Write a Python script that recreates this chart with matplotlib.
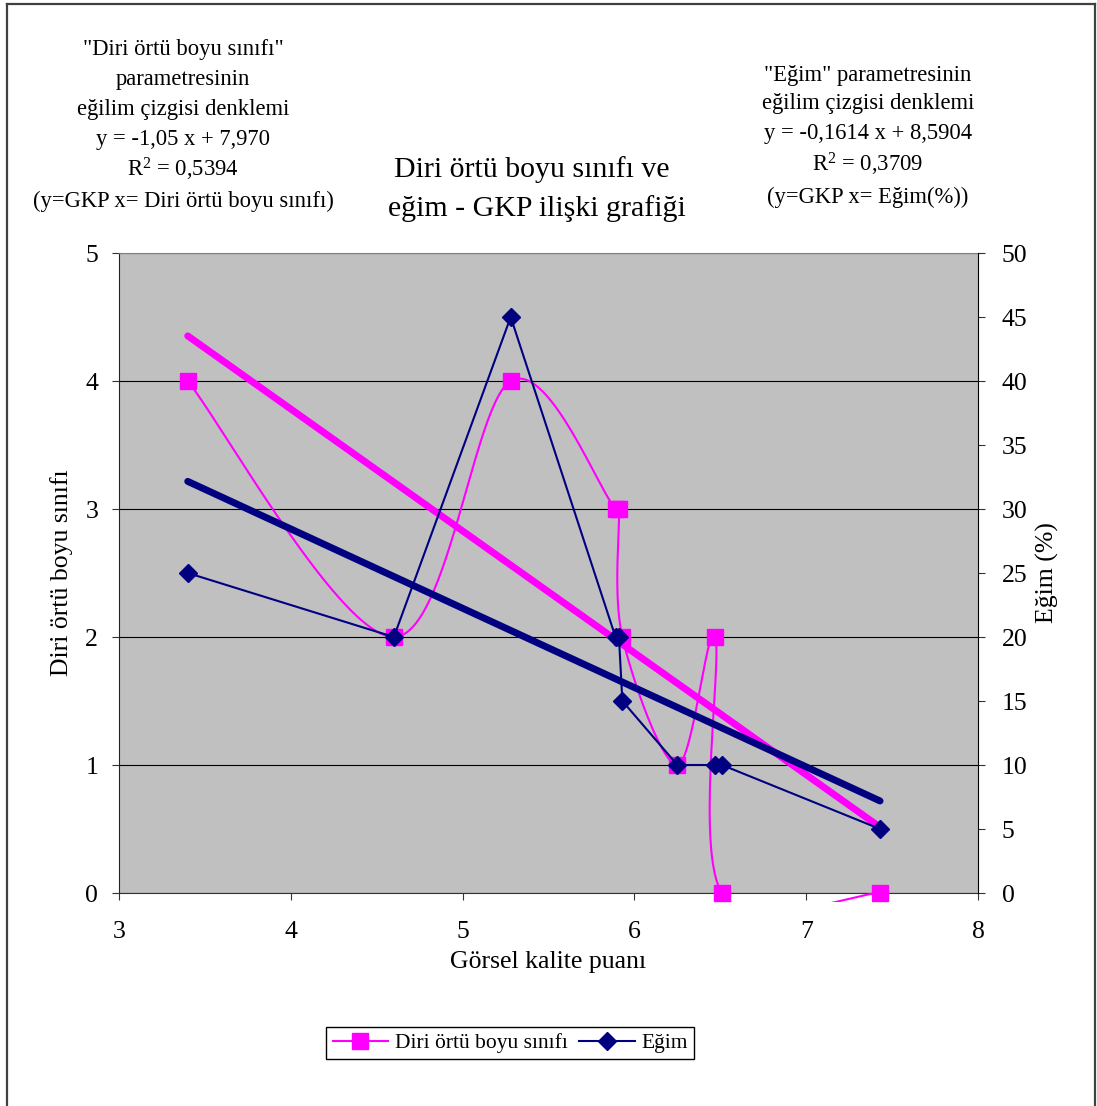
import numpy as np
import matplotlib
matplotlib.use('Agg')
import matplotlib.pyplot as plt
from matplotlib.lines import Line2D
from matplotlib.transforms import Bbox

plt.rcParams['font.family'] = ['Liberation Serif', 'DejaVu Serif']
plt.rcParams['mathtext.fontset'] = 'custom'
plt.rcParams['mathtext.rm'] = 'Liberation Serif'
plt.rcParams['mathtext.it'] = 'Liberation Serif:italic'

# ---- data ----
gkp = [3.40, 4.60, 5.28, 5.89, 5.91, 5.93, 6.25, 6.47, 6.51, 7.43]
diri = [4, 2, 4, 3, 3, 2, 1, 2, 0, 0]
egim = [25, 20, 45, 20, 20, 15, 10, 10, 10, 5]
# trend equations (GKP = slope * param + intercept)
diri_slope, diri_intercept = -1.05, 7.970
egim_slope, egim_intercept = -0.1614, 8.5904

x_ticks = [3, 4, 5, 6, 7, 8]
left_ticks = [0, 1, 2, 3, 4, 5]
right_ticks = [0, 5, 10, 15, 20, 25, 30, 35, 40, 45, 50]

PINK = '#FF00FF'
NAVY = '#000080'

W, H = 1097, 1106
fig = plt.figure(figsize=(W / 100, H / 100), dpi=100)
ax = fig.add_axes([119 / W, 1 - 893 / H, 859 / W, 640 / H])
ax.set_xlim(3, 8)
ax.set_ylim(0, 5)
ax2 = ax.twinx()
ax2.set_ylim(0, 50)
ax.set_facecolor('#C0C0C0')
ax2.patch.set_visible(False)

ax.set_xticks(x_ticks)
ax.set_yticks(left_ticks)
ax2.set_yticks(right_ticks)
ax.yaxis.grid(True, color='black', lw=0.8)
ax.set_axisbelow(True)

for a in (ax, ax2):
    a.tick_params(direction='out', length=5, width=0.8, labelsize=18.5, color='#333333')
ax.tick_params(axis='x', pad=15)
ax.tick_params(axis='y', pad=10)
ax2.tick_params(axis='y', pad=12)

ax.spines['top'].set_color('#808080')
ax.spines['right'].set_visible(False)
ax.spines['left'].set_color('#222222')
ax.spines['bottom'].set_color('#333333')
for s in ('top', 'left', 'bottom'):
    ax2.spines[s].set_visible(False)
ax2.spines['right'].set_color('black')


def smooth(P, n=60):
    P = np.asarray(P, float)
    pts = []
    for i in range(len(P) - 1):
        p0 = P[i - 1] if i > 0 else P[i]
        p1 = P[i]
        p2 = P[i + 1]
        p3 = P[i + 2] if i + 2 < len(P) else P[i + 1]
        c1 = p1 + (p2 - p0) / 6
        c2 = p2 - (p3 - p1) / 6
        t = np.linspace(0, 1, n)[:, None]
        seg = (1 - t) ** 3 * p1 + 3 * (1 - t) ** 2 * t * c1 + 3 * (1 - t) * t ** 2 * c2 + t ** 3 * p2
        pts.append(seg if i == 0 else seg[1:])
    return np.vstack(pts)


# trendlines
xt = np.array([min(gkp), max(gkp)])
ax.plot(xt, (xt - diri_intercept) / diri_slope, color=PINK, lw=5, solid_capstyle='round', zorder=3)
ax2.plot(xt, (xt - egim_intercept) / egim_slope, color=NAVY, lw=5, solid_capstyle='round', zorder=3)

# pink smoothed series (smoothing in display space)
disp = ax.transData.transform(np.column_stack([gkp, diri]))
curve = ax.transData.inverted().transform(smooth(disp))
ln, = ax.plot(curve[:, 0], curve[:, 1], color=PINK, lw=1.5, zorder=4)
x0, y0, x1, y1 = ax.bbox.extents
ln.set_clip_box(Bbox.from_extents(x0, y0 - 9, x1, y1))
ax.plot(gkp, diri, ls='none', marker='s', ms=11, color=PINK, zorder=5, clip_on=False)

# navy series
ax2.plot(gkp, egim, color=NAVY, lw=1.5, marker='D', ms=9, zorder=5)

# axis labels
ax.set_xlabel('Görsel kalite puanı', fontsize=18.5)
ax.xaxis.set_label_coords(0.5, (893 - 962) / 640)
ax.xaxis.label.set_va('center')
ax.set_ylabel('Diri örtü boyu sınıfı', fontsize=18.5)
ax.yaxis.set_label_coords((62 - 119) / 859, 0.5)
ax.yaxis.label.set_va('center')
ax2.set_ylabel('Eğim (%)', fontsize=18.5, rotation=90)
ax2.yaxis.set_label_coords((1047 - 119) / 859, 0.5)
ax2.yaxis.label.set_va('center')


def ftext(x, y, s, size, **kw):
    fig.text(x / W, 1 - y / H, s, fontsize=size, ha='center', va='center', **kw)


# title
ftext(532, 170, 'Diri örtü boyu sınıfı ve', 21.5)
ftext(537, 209, 'eğim - GKP ilişki grafiği', 21.5)

left_lines = ['"Diri örtü boyu sınıfı"', 'parametresinin', 'eğilim çizgisi denklemi',
              'y = -1,05 x + 7,970', 'R$^{2}$ = 0,5394', '(y=GKP x= Diri örtü boyu sınıfı)']
left_y = [49, 80, 109, 139, 169, 201]
for s, y in zip(left_lines, left_y):
    ftext(183, y, s, 16.3)

right_lines = ['"Eğim" parametresinin', 'eğilim çizgisi denklemi', 'y = -0,1614 x + 8,5904',
               'R$^{2}$ = 0,3709', '(y=GKP x= Eğim(%))']
right_y = [75, 104, 133, 164, 197]
for s, y in zip(right_lines, right_y):
    ftext(868, y, s, 16.3)

# legend
handles = [Line2D([], [], color=PINK, lw=1.5, marker='s', ms=11),
           Line2D([], [], color=NAVY, lw=1.5, marker='D', ms=9)]
leg = fig.legend(handles, ['Diri örtü boyu sınıfı', 'Eğim'], loc='center',
                 bbox_to_anchor=(510 / W, 1 - 1043 / H), ncol=2, frameon=True, fancybox=False,
                 edgecolor='black', framealpha=1, fontsize=15.5, handlelength=2.6,
                 columnspacing=0.5, handletextpad=0.3, borderpad=0.3, borderaxespad=0)
leg.get_frame().set_linewidth(1)

# outer border
bc = '#404040'
fig.add_artist(Line2D([6.5 / W, 6.5 / W], [0, 1 - 4 / H], transform=fig.transFigure, color=bc, lw=1.6))
fig.add_artist(Line2D([1095 / W, 1095 / W], [0, 1 - 4 / H], transform=fig.transFigure, color=bc, lw=1.6))
fig.add_artist(Line2D([6.5 / W, 1095 / W], [1 - 4 / H, 1 - 4 / H], transform=fig.transFigure, color=bc, lw=1.6))

fig.savefig('out.png', dpi=100)
